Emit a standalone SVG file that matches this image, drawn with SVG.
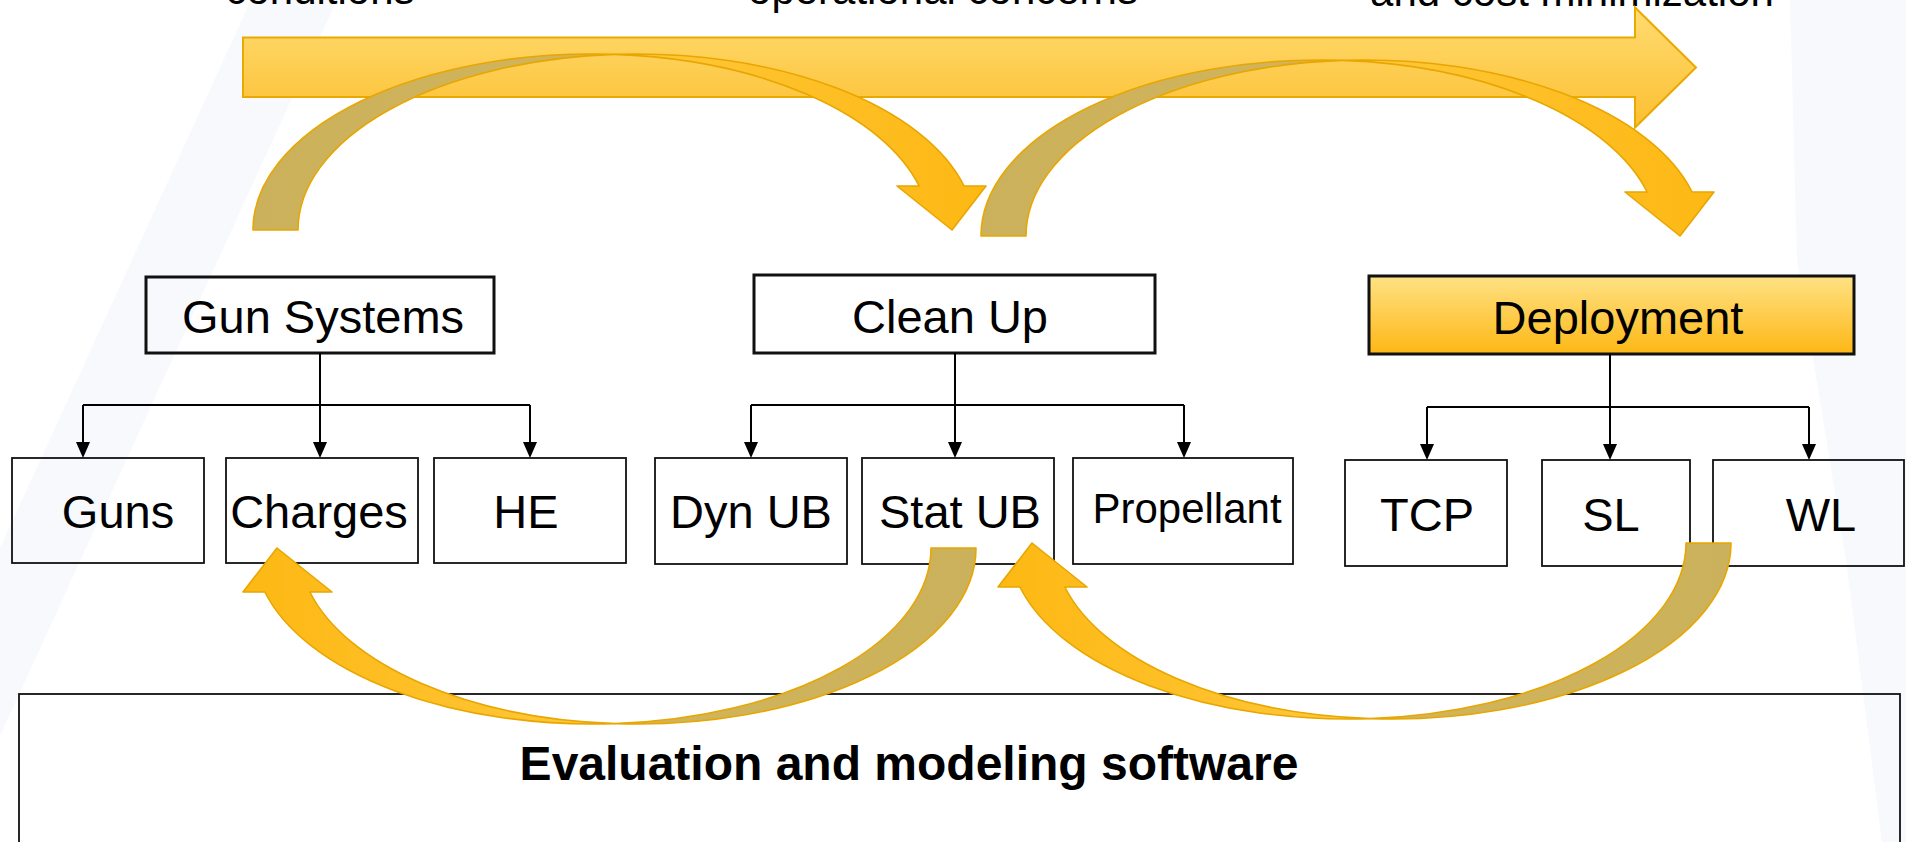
<svg xmlns="http://www.w3.org/2000/svg" xmlns:xlink="http://www.w3.org/1999/xlink" width="1906" height="842" viewBox="0 0 1906 842">
<style>
  .t { font-family: 'Liberation Sans', Arial, sans-serif; fill: #000; text-anchor: middle; }
  .n { font-size: 47px; }
  .top { font-size: 42px; }
  .box { fill: none; stroke: #111; stroke-width: 1.8; }
  .pbox { fill: none; stroke: #111; stroke-width: 3; }
  .conn { fill: none; stroke: #000; stroke-width: 2; }
  .carrow { stroke: #E8A600; stroke-width: 1.6; stroke-linejoin: round; }
  .bg { fill: #F7F9FC; }
</style>
<defs>
  <linearGradient id="gBar" x1="0" y1="0" x2="0" y2="1">
    <stop offset="0" stop-color="#FFDC72"/>
    <stop offset="1" stop-color="#FCBF31"/>
  </linearGradient>
  <linearGradient id="gDep" x1="0" y1="0" x2="0" y2="1">
    <stop offset="0" stop-color="#FFE285"/>
    <stop offset="1" stop-color="#FDB715"/>
  </linearGradient>
  <linearGradient id="gTan" x1="0" y1="0" x2="1" y2="0">
    <stop offset="0" stop-color="#CBB15B"/>
    <stop offset="1" stop-color="#D1B55C"/>
  </linearGradient>
  <linearGradient id="gYel" x1="0" y1="0" x2="1" y2="0">
    <stop offset="0" stop-color="#FFC83D"/>
    <stop offset="1" stop-color="#FDB813"/>
  </linearGradient>
  <g id="curved">
    <path class="carrow" fill="url(#gTan)" d="M253,230 A338.4,176 0 0 1 613.9,54.4 A338.4,176 0 0 0 298,230 Z"/>
    <path class="carrow" fill="url(#gYel)" d="M613.9,54.4 A338.4,176 0 0 1 964.1,186 L986,186 L952,230 L897,186 L919.1,186 A338.4,176 0 0 0 613.9,54.4 Z"/>
  </g>
</defs>

<rect width="1906" height="842" fill="#FFFFFF"/>
<g id="background">
  <polygon class="bg" points="251,0 337,0 0,736 0,548"/>
  <polygon class="bg" points="1790,0 1906,0 1906,842 1882,842 1846,560 1797,260"/>
</g>

<g id="top-labels">
  <text class="t top" x="320" y="4">conditions</text>
  <text class="t top" x="943" y="4">operational concerns</text>
  <text class="t top" x="1572" y="6">and cost minimization</text>
</g>

<g id="progress-arrow">
  <path d="M243,37.5 H1635 V7.5 L1696,67.5 L1635,127.5 V97 H243 Z" fill="url(#gBar)" stroke="#EAA900" stroke-width="2" stroke-linejoin="miter"/>
</g>

<g id="node-gun-systems">
  <rect class="pbox" x="146" y="277" width="348" height="76"/>
  <text class="t n" x="323" y="333">Gun Systems</text>
</g>
<g id="node-clean-up">
  <rect class="pbox" x="754" y="275" width="401" height="78"/>
  <text class="t n" x="950" y="333">Clean Up</text>
</g>
<g id="node-deployment">
  <rect x="1369" y="276" width="485" height="78" fill="url(#gDep)" stroke="#111" stroke-width="3"/>
  <text class="t n" x="1618" y="334">Deployment</text>
</g>

<g id="node-guns">
  <rect class="box" x="12" y="458" width="192" height="105"/>
  <text class="t n" x="118" y="528">Guns</text>
</g>
<g id="node-charges">
  <rect class="box" x="226" y="458" width="192" height="105"/>
  <text class="t n" x="319" y="528">Charges</text>
</g>
<g id="node-he">
  <rect class="box" x="434" y="458" width="192" height="105"/>
  <text class="t n" x="526" y="528">HE</text>
</g>
<g id="node-dyn-ub">
  <rect class="box" x="655" y="458" width="192" height="106"/>
  <text class="t n" x="751" y="528">Dyn UB</text>
</g>
<g id="node-stat-ub">
  <rect class="box" x="862" y="458" width="192" height="106"/>
  <text class="t n" x="960" y="528">Stat UB</text>
</g>
<g id="node-propellant">
  <rect class="box" x="1073" y="458" width="220" height="106"/>
  <text class="t" style="font-size:42px" x="1187" y="523">Propellant</text>
</g>
<g id="node-tcp">
  <rect class="box" x="1345" y="460" width="162" height="106"/>
  <text class="t n" x="1427" y="531">TCP</text>
</g>
<g id="node-sl">
  <rect class="box" x="1542" y="460" width="148" height="106"/>
  <text class="t n" x="1611" y="531">SL</text>
</g>
<g id="node-wl">
  <rect class="box" x="1713" y="460" width="191" height="106"/>
  <text class="t n" x="1821" y="531">WL</text>
</g>

<g id="node-evaluation">
  <rect class="box" x="19" y="694" width="1881" height="170"/>
  <text class="t" style="font-size:48px;font-weight:bold" x="909" y="780">Evaluation and modeling software</text>
</g>

<g id="connectors">
  <path class="conn" d="M320,353 V442"/>
  <path class="conn" d="M83,405 H530"/>
  <path class="conn" d="M83,405 V442"/>
  <path class="conn" d="M530,405 V442"/>
  <path d="M313,442 H327 L320,458 Z M76,442 H90 L83,458 Z M523,442 H537 L530,458 Z"/>

  <path class="conn" d="M955,353 V442"/>
  <path class="conn" d="M751,405 H1184"/>
  <path class="conn" d="M751,405 V442"/>
  <path class="conn" d="M1184,405 V442"/>
  <path d="M948,442 H962 L955,458 Z M744,442 H758 L751,458 Z M1177,442 H1191 L1184,458 Z"/>

  <path class="conn" d="M1610,354 V444"/>
  <path class="conn" d="M1427,407 H1809"/>
  <path class="conn" d="M1427,407 V444"/>
  <path class="conn" d="M1809,407 V444"/>
  <path d="M1603,444 H1617 L1610,460 Z M1420,444 H1434 L1427,460 Z M1802,444 H1816 L1809,460 Z"/>

  <g id="curved-arrows">
    <use xlink:href="#curved" href="#curved"/>
    <use xlink:href="#curved" href="#curved" transform="translate(728,6)"/>
    <use xlink:href="#curved" href="#curved" transform="translate(1229,778) rotate(180)"/>
    <use xlink:href="#curved" href="#curved" transform="translate(1984,773) rotate(180)"/>
  </g>
</g>
</svg>
